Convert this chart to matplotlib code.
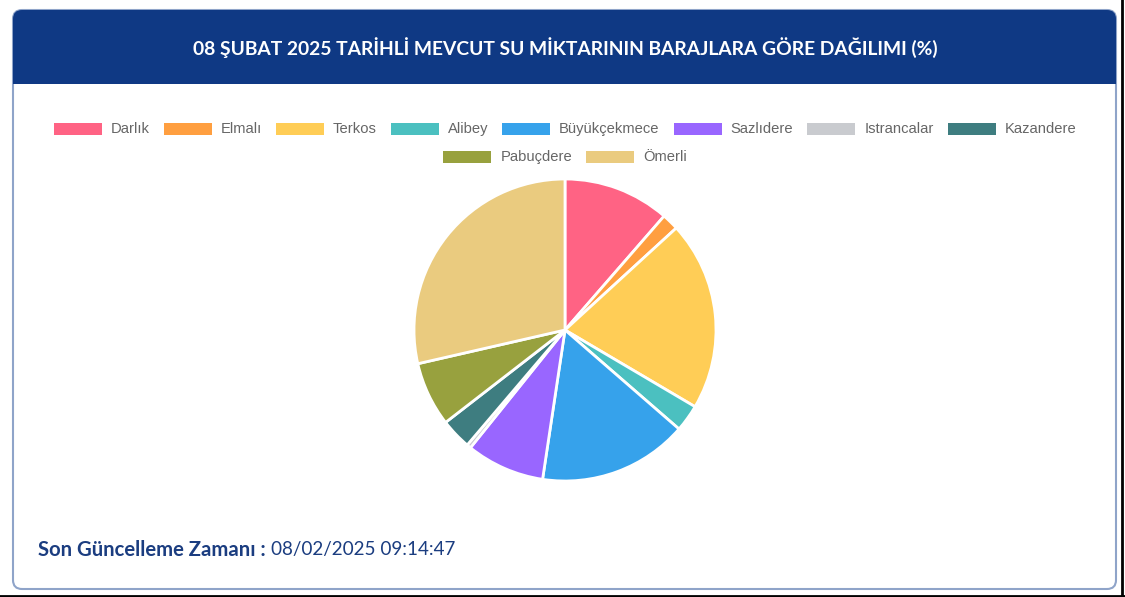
import matplotlib
matplotlib.use("Agg")
import matplotlib.pyplot as plt
from matplotlib.patches import FancyBboxPatch, Rectangle

# data (percent of total)
dams = ["Darlık", "Elmalı", "Terkos", "Alibey", "Büyükçekmece", "Sazlıdere",
        "Istrancalar", "Kazandere", "Pabuçdere", "Ömerli"]
shares = [11.4, 1.8, 20.3, 2.9, 16.0, 8.4, 0.45, 3.3, 6.9, 28.6]
colors = ["#ff6384", "#ff9f40", "#ffcd56", "#4bc0c0", "#36a2eb", "#9966ff",
          "#c9cbcf", "#3e7d80", "#98a13e", "#eacb7f"]
title = "08 ŞUBAT 2025 TARİHLİ MEVCUT SU MİKTARININ BARAJLARA GÖRE DAĞILIMI (%)"
footer_label = "Son Güncelleme Zamanı :"
footer_value = "08/02/2025 09:14:47"

W, H = 1125, 597
fig = plt.figure(figsize=(W / 100, H / 100), dpi=100)
bg = fig.add_axes([0, 0, 1, 1])
bg.set_xlim(0, W)
bg.set_ylim(H, 0)
bg.axis("off")

# card + header
card = FancyBboxPatch((13, 10), 1103, 579, boxstyle="round,pad=0,rounding_size=9",
                      fc="white", ec="#8fa4c9", lw=1.5)
bg.add_patch(card)
head = FancyBboxPatch((13, 10), 1103, 74, boxstyle="round,pad=0,rounding_size=9",
                      fc="#0f3984", ec="none")
bg.add_patch(head)
bg.add_patch(Rectangle((13, 60), 1103, 24, fc="#0f3984", ec="none"))
bg.plot([1122, 1122], [0, H], color="black", lw=2)
bg.plot([0, W], [596, 596], color="black", lw=2)

bg.text(565, 48, title, color="white", fontsize=13.9, fontweight="bold",
        family="Lato", ha="center", va="center")

# legend, two centred rows drawn by hand
fig.canvas.draw()
rend = fig.canvas.get_renderer()
rows = [range(0, 8), range(8, 10)]
row_y = [129, 157]
box_w, box_h, gap_txt, gap_item = 48, 12, 9, 14
for idx, y in zip(rows, row_y):
    items = []
    for i in idx:
        t = bg.text(0, y, dams[i], fontsize=10.6, color="#666666",
                    family="Liberation Sans", va="center")
        tw = t.get_window_extent(rend).width
        items.append((i, t, tw))
    total = sum(box_w + gap_txt + tw for _, _, tw in items) + gap_item * (len(items) - 1)
    x = 565 - total / 2
    for i, t, tw in items:
        bg.add_patch(Rectangle((x, y - box_h / 2), box_w, box_h, fc=colors[i], ec="none"))
        t.set_x(x + box_w + gap_txt)
        x += box_w + gap_txt + tw + gap_item

# pie
cx, cy, r = 565, 330, 151
pax = fig.add_axes([(cx - r) / W, (H - cy - r) / H, 2 * r / W, 2 * r / H])
pax.pie(shares, colors=colors, startangle=90, counterclock=False,
        wedgeprops=dict(edgecolor="white", linewidth=2))
pax.set_xlim(-1, 1)
pax.set_ylim(-1, 1)
pax.set_aspect("equal")

# footer
ft = bg.text(38, 550, footer_label, fontsize=14.6, fontweight="bold", color="#1b3d80",
             family="Lato", va="center")
fig.canvas.draw()
fw = ft.get_window_extent(rend).width
bg.text(38 + fw + 5, 550, footer_value, fontsize=13.6, color="#1b3d80",
        family="Lato", va="center")

fig.savefig("out.png", dpi=100)
